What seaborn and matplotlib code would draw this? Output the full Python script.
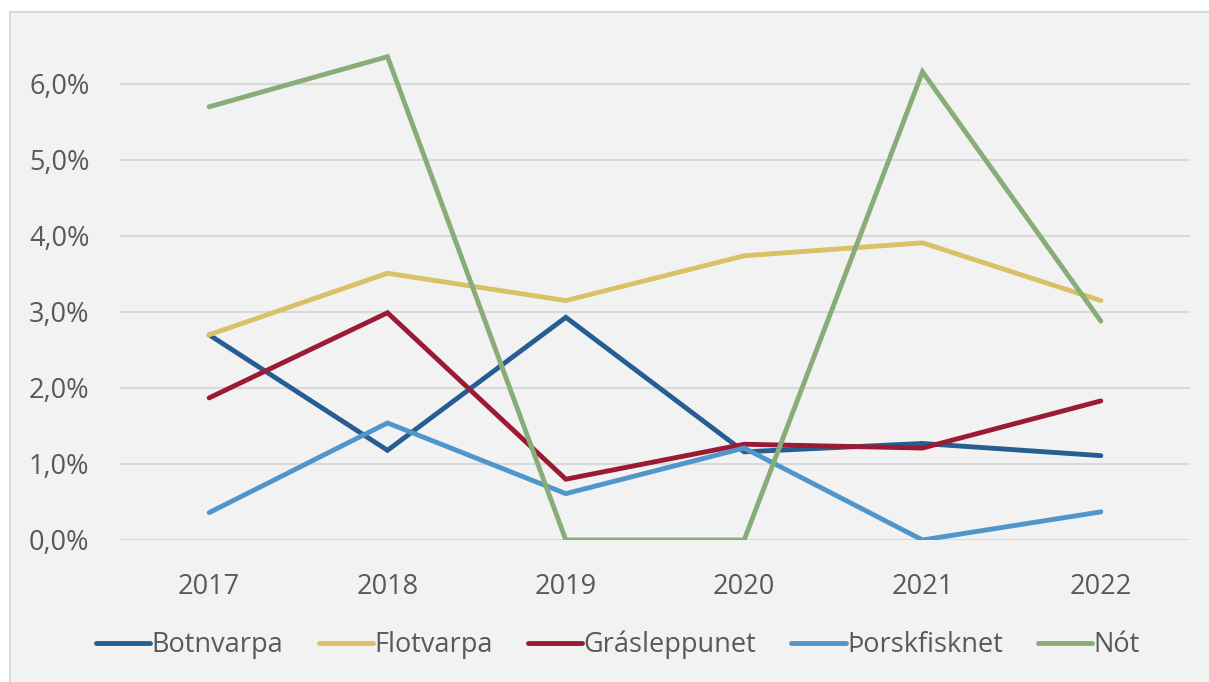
import pandas as pd
import numpy as np
import matplotlib.pyplot as plt
import matplotlib.patches as mpatches
import seaborn as sns

years = [2017, 2018, 2019, 2020, 2021, 2022]
botnvarpa = [2.70, 1.18, 2.93, 1.16, 1.27, 1.11]
flotvarpa = [2.70, 3.51, 3.15, 3.74, 3.91, 3.15]
grasleppunet = [1.87, 2.99, 0.80, 1.26, 1.21, 1.83]
thorskfisknet = [0.36, 1.54, 0.61, 1.21, 0.00, 0.37]
not_ = [5.70, 6.36, 0.00, 0.00, 6.16, 2.88]

series = {
    "Botnvarpa": botnvarpa,
    "Flotvarpa": flotvarpa,
    "Grásleppunet": grasleppunet,
    "Þorskfisknet": thorskfisknet,
    "Nót": not_,
}
colors = ["#265d92", "#d8c166", "#9b1b34", "#5096cb", "#89ad78"]

rows = []
for name, vals in series.items():
    for y, v in zip(years, vals):
        rows.append({"Ár": y, "Hlutfall": v, "Veiðarfæri": name})
df = pd.DataFrame(rows)

sns.set_style("white")
plt.rcParams["font.family"] = ["Open Sans", "DejaVu Sans"]
text_color = "#595959"

fig = plt.figure(figsize=(12.09, 6.82), dpi=100)
fig.patch.set_facecolor("white")
# chart area frame
frame = mpatches.Rectangle((10 / 1209, -0.01), 1.02, 1 - 12 / 682 + 0.01,
                           transform=fig.transFigure, facecolor="#f2f2f2",
                           edgecolor="#d9d9d9", linewidth=1.5, zorder=-10)
fig.add_artist(frame)

ax = fig.add_axes([120 / 1209, 1 - 540 / 682, 1070 / 1209, (540 - 46) / 682])
ax.set_zorder(1)
ax.patch.set_alpha(0)

sns.lineplot(data=df, x="Ár", y="Hlutfall", hue="Veiðarfæri", palette=colors,
             linewidth=3.5, ax=ax, legend=True,
             solid_capstyle="round", solid_joinstyle="miter")

ax.set_xlim(2016.5, 2022.5)
ax.set_ylim(0, 6.5)
ax.set_xticks(years)
ax.set_xticklabels([str(y) for y in years])
ax.set_yticks(np.arange(0, 7, 1))
ax.set_yticklabels([f"{v:.1f}%".replace(".", ",") for v in np.arange(0, 7, 1)])
ax.grid(axis="y", color="#d9d9d9", linewidth=1.5)
ax.set_axisbelow(True)
for s in ax.spines.values():
    s.set_visible(False)
ax.tick_params(axis="both", length=0, labelsize=19.5, colors=text_color)
ax.tick_params(axis="x", pad=24)
ax.tick_params(axis="y", pad=22)
ax.set_xlabel("")
ax.set_ylabel("")

handles, labels = ax.get_legend_handles_labels()
leg = ax.legend(handles, labels, loc="center",
                bbox_to_anchor=((618 - 120) / 1070, -(645 - 540) / 494),
                ncol=5, frameon=False, fontsize=19.5, handlelength=2.0,
                handletextpad=0.05, columnspacing=1.3, labelcolor=text_color)
for line in leg.get_lines():
    line.set_linewidth(3.5)
    line.set_solid_capstyle("round")

plt.savefig("out.png", dpi=100, facecolor=fig.get_facecolor())
